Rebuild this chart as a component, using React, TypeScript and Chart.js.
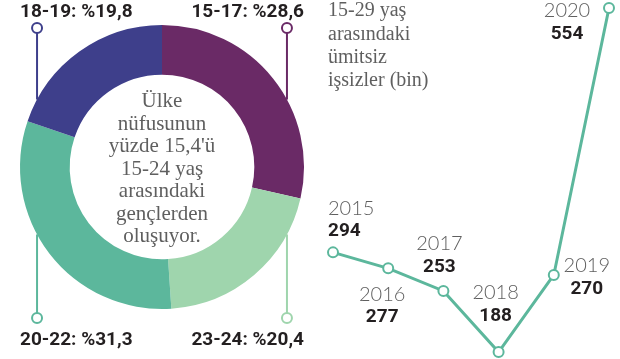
import React, { useEffect, useRef } from "react";
import { Chart, registerables } from "chart.js";
Chart.register(...registerables);

// ---- Doughnut data ----
const ageGroups = ["15-17", "23-24", "20-22", "18-19"];
const ageShares = [28.6, 20.4, 31.3, 19.8];
const ageShareLabels = ["%28,6", "%20,4", "%31,3", "%19,8"];
const ageColors = ["#6a2a66", "#9fd5ad", "#5cb79c", "#3e3f8b"];
const centerLines = ["Ülke", "nüfusunun", "yüzde 15,4'ü", "15-24 yaş", "arasındaki", "gençlerden", "oluşuyor."];

// ---- Line data ----
const years = ["2015", "2016", "2017", "2018", "2019", "2020"];
const discouraged = [294, 277, 253, 188, 270, 554];
const titleLines = ["15-29 yaş", "arasındaki", "ümitsiz", "işsizler (bin)"];

// label placement (styles/positions, not data)
const corners = [
  { sx: 1, sy: -1 },
  { sx: 1, sy: 1 },
  { sx: -1, sy: 1 },
  { sx: -1, sy: -1 },
];
const pointLabelPlacement = [
  { dx: -5, align: "left", dy: -44 },
  { dx: -6, align: "center", dy: 26 },
  { dx: -4, align: "center", dy: -47 },
  { dx: -3, align: "center", dy: -59 },
  { dx: 33, align: "center", dy: -9 },
  { dx: -42, align: "center", dy: 3 },
];

const SERIF = '"Liberation Serif", "DejaVu Serif", serif';
const BOLD = '700 19px Roboto, "Open Sans", sans-serif';
const LIGHT = '300 20px Lato, "Open Sans", sans-serif';

const doughnutPlugin = {
  id: "doughnutDecor",
  afterDraw(chart: any) {
    const ctx = chart.ctx;
    const arc = chart.getDatasetMeta(0).data[0];
    const { x: cx, y: cy, outerRadius: r } = arc.getProps(["x", "y", "outerRadius"], true);
    const area = chart.chartArea;
    ctx.save();
    corners.forEach((c, i) => {
      const off = 0.88 * r;
      const lx = cx + c.sx * off;
      const ringY = cy + c.sy * Math.sqrt(r * r - off * off);
      const circleY = c.sy < 0 ? cy - r + 3 : cy + r + 9;
      ctx.strokeStyle = ageColors[i];
      ctx.lineWidth = 2;
      ctx.beginPath();
      ctx.moveTo(lx, circleY + c.sy * -5);
      ctx.lineTo(lx, ringY);
      ctx.stroke();
      ctx.beginPath();
      ctx.arc(lx, circleY, 5, 0, Math.PI * 2);
      ctx.fillStyle = "#fff";
      ctx.fill();
      ctx.stroke();
      ctx.font = BOLD;
      ctx.fillStyle = "#231f20";
      ctx.textBaseline = "middle";
      ctx.textAlign = c.sx > 0 ? "right" : "left";
      const tx = c.sx > 0 ? area.right : area.left;
      const ty = c.sy < 0 ? circleY - 16 : circleY + 22;
      ctx.fillText(ageGroups[i] + ": " + ageShareLabels[i], tx, ty);
    });
    ctx.font = "21px " + SERIF;
    ctx.fillStyle = "#5f5f5f";
    ctx.textAlign = "center";
    ctx.textBaseline = "middle";
    const lh = 22.5;
    const startY = cy + 2 - ((centerLines.length - 1) / 2) * lh;
    centerLines.forEach((t, i) => ctx.fillText(t, cx, startY + i * lh));
    ctx.restore();
  },
};

const linePlugin = {
  id: "lineDecor",
  afterDatasetsDraw(chart: any) {
    const ctx = chart.ctx;
    const area = chart.chartArea;
    ctx.save();
    ctx.font = "20px " + SERIF;
    ctx.fillStyle = "#5f5f5f";
    ctx.textAlign = "left";
    ctx.textBaseline = "middle";
    titleLines.forEach((t, i) => ctx.fillText(t, area.left - 5, 11 + i * 23.3));
    const pts = chart.getDatasetMeta(0).data;
    pts.forEach((p: any, i: number) => {
      const pl = pointLabelPlacement[i];
      const x = p.x + pl.dx;
      const y = p.y + pl.dy;
      ctx.textAlign = pl.align;
      ctx.font = LIGHT;
      ctx.fillStyle = "#5f5f5f";
      ctx.fillText(years[i], x, y);
      ctx.font = BOLD;
      ctx.fillStyle = "#231f20";
      ctx.fillText(String(discouraged[i]), x, y + 23);
    });
    ctx.restore();
  },
};

export default function App() {
  const dRef = useRef<HTMLCanvasElement>(null);
  const lRef = useRef<HTMLCanvasElement>(null);

  useEffect(() => {
    const d = new Chart(dRef.current!, {
      type: "doughnut",
      data: {
        labels: ageGroups,
        datasets: [
          {
            data: ageShares,
            backgroundColor: ageColors,
            borderWidth: 0,
          },
        ],
      },
      options: {
        responsive: false,
        animation: false,
        cutout: "65%",
        layout: { padding: { left: 20, top: 25, right: 20, bottom: 50 } },
        plugins: { legend: { display: false }, tooltip: { enabled: false } },
      },
      plugins: [doughnutPlugin],
    });
    const l = new Chart(lRef.current!, {
      type: "line",
      data: {
        labels: years,
        datasets: [
          {
            data: discouraged,
            borderColor: "#5cb79c",
            borderWidth: 3,
            pointRadius: 5,
            pointBackgroundColor: "#fff",
            pointBorderColor: "#5cb79c",
            pointBorderWidth: 2,
            tension: 0,
            clip: false,
          },
        ],
      },
      options: {
        responsive: false,
        animation: false,
        layout: { padding: { left: 23, top: 8, right: 11, bottom: 7 } },
        scales: {
          x: { display: false, offset: false },
          y: { display: false, min: 188, max: 554 },
        },
        plugins: { legend: { display: false }, tooltip: { enabled: false } },
      },
      plugins: [linePlugin],
    });
    return () => {
      d.destroy();
      l.destroy();
    };
  }, []);

  return (
    <div style={{ position: "absolute", left: 0, top: 0, width: 620, height: 359, background: "#fff" }}>
      <canvas ref={dRef} width={324} height={359} style={{ position: "absolute", left: 0, top: 0 }} />
      <canvas ref={lRef} width={310} height={359} style={{ position: "absolute", left: 310, top: 0 }} />
    </div>
  );
}
